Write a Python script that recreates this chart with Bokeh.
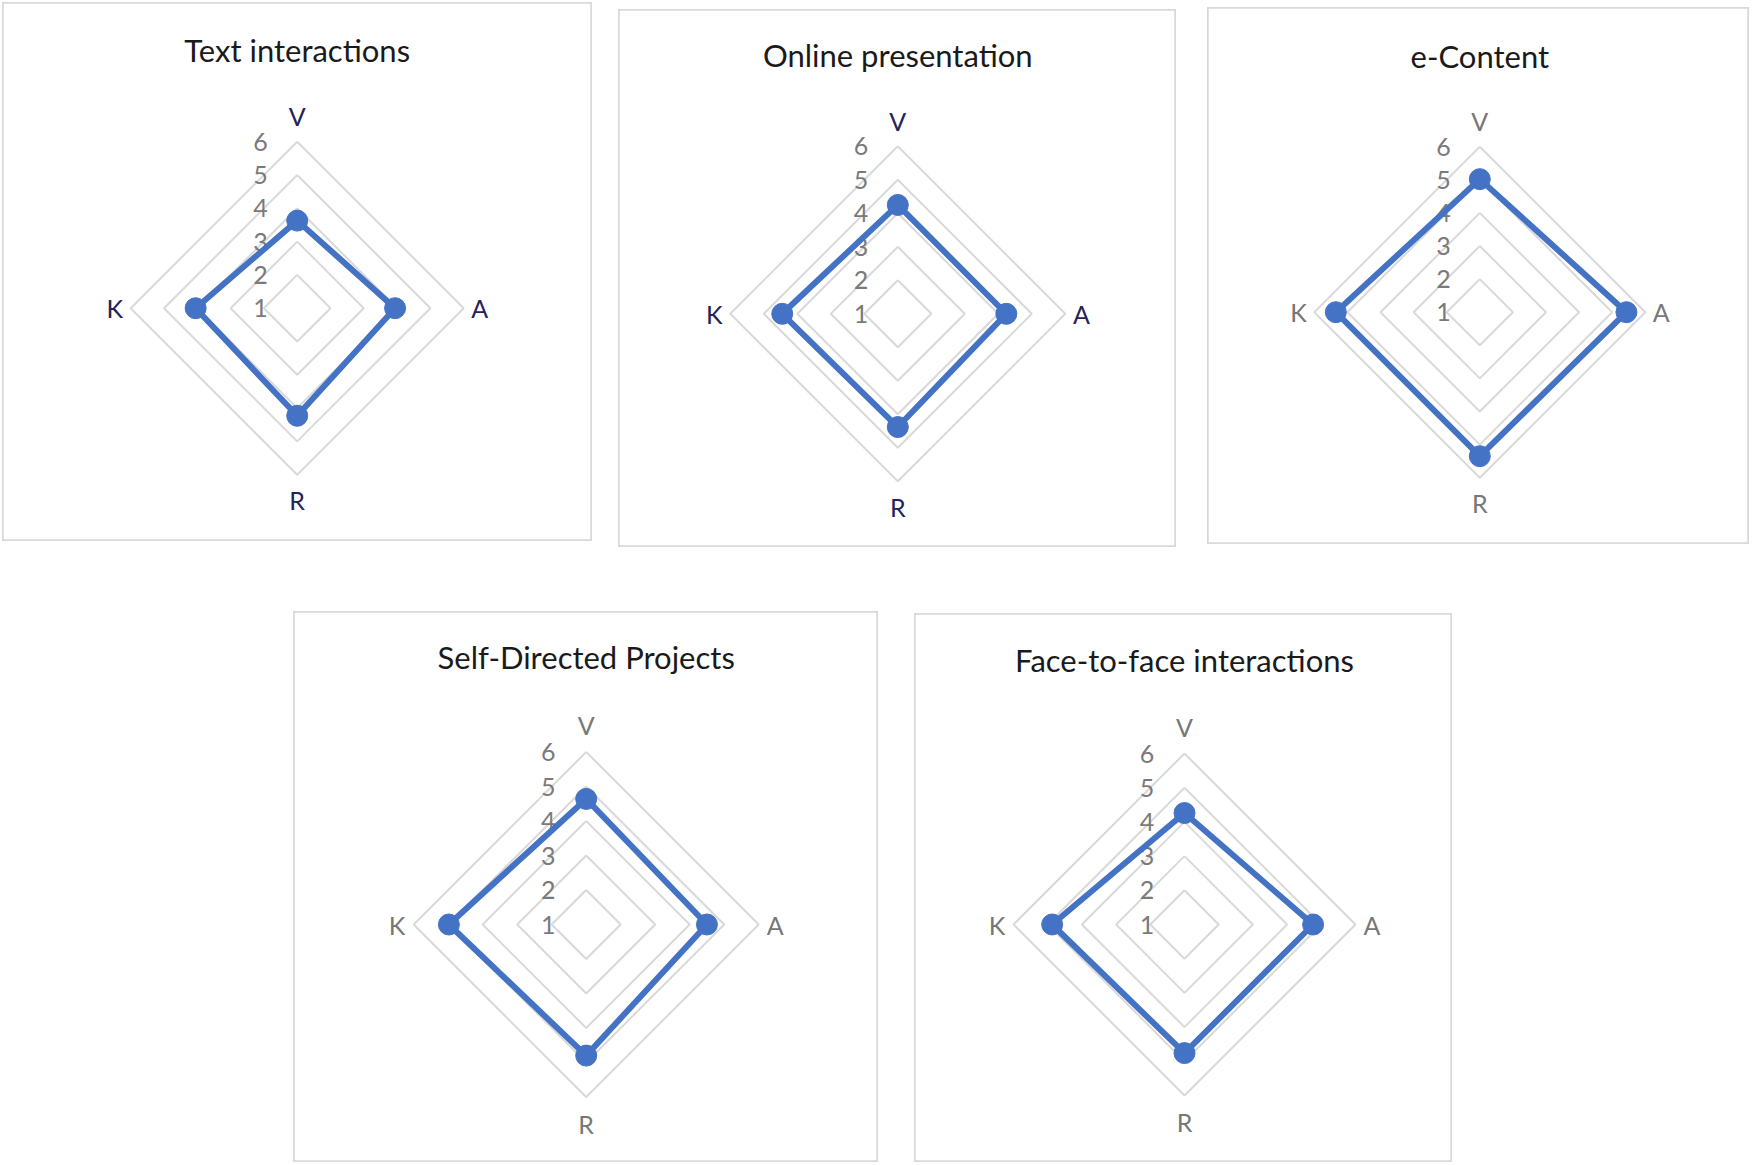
import math
from bokeh.plotting import figure
from bokeh.layouts import row, column
from bokeh.models import Range1d, Spacer
from bokeh.core.properties import value
from bokeh.embed import file_html
from bokeh.resources import INLINE

# ---------------- data ----------------
categories = ["V", "A", "R", "K"]
tick_labels = ["1", "2", "3", "4", "5", "6"]
axis_min, axis_max = 1, 6

titles = ["Text interactions", "Online presentation", "e-Content",
          "Self-Directed Projects", "Face-to-face interactions"]
text_interactions = [3.63, 3.94, 4.23, 4.05]
online_presentation = [4.25, 4.24, 4.38, 4.45]
e_content = [5.02, 5.43, 5.35, 5.35]
self_directed_projects = [4.64, 4.50, 4.80, 4.98]
face_to_face_interactions = [4.26, 4.76, 4.76, 4.87]
series = [text_interactions, online_presentation, e_content,
          self_directed_projects, face_to_face_interactions]

# ---------------- layout / style ----------------
# width, height, centre x, centre y (px from figure's top-left), px per unit, axis label colour
specs = [
    dict(w=590, h=539, cx=294.7, cy=305.7, u=33.3, lab="#23235a"),
    dict(w=558, h=538, cx=279.3, cy=304.3, u=33.5, lab="#23235a"),
    dict(w=542, h=537, cx=272.3, cy=304.7, u=33.1, lab="#777777"),
    dict(w=585, h=551, cx=292.7, cy=313.0, u=34.5, lab="#777777"),
    dict(w=538, h=549, cx=270.0, cy=311.0, u=34.2, lab="#777777"),
]
FONT = value("Lato")
BLUE = "#4472C4"
GRID = "#d9d9d9"

n = len(categories)
angles = [math.pi / 2 - 2 * math.pi * i / n for i in range(n)]


def radar(title, vals, s):
    W, H, cx, cy, u = s["w"], s["h"], s["cx"], s["cy"], s["u"]
    p = figure(width=W, height=H,
               x_range=Range1d(-cx / u, (W - cx) / u),
               y_range=Range1d(-(H - cy) / u, cy / u),
               output_backend="svg", toolbar_location=None,
               x_axis_location=None, y_axis_location=None,
               min_border=0, outline_line_color=GRID, outline_line_width=2.5,
               background_fill_color="white", border_fill_color="white")
    p.grid.visible = False

    # rings
    xs, ys = [], []
    for t in range(axis_min + 1, axis_max + 1):
        r = t - axis_min
        xs.append([r * math.cos(a) for a in angles] + [r * math.cos(angles[0])])
        ys.append([r * math.sin(a) for a in angles] + [r * math.sin(angles[0])])
    p.multi_line(xs, ys, line_color=GRID, line_width=2)

    # tick labels
    ticks = list(range(axis_min, axis_max + 1))
    p.text(x=[-1.1] * len(ticks), y=[t - axis_min for t in ticks], text=tick_labels,
           text_align="center", text_baseline="middle", text_font=FONT,
           text_font_size="25px", text_color="#7a7a7a")

    # data
    rr = [v - axis_min for v in vals]
    dx = [r * math.cos(a) for r, a in zip(rr, angles)]
    dy = [r * math.sin(a) for r, a in zip(rr, angles)]
    p.line(dx + [dx[0]], dy + [dy[0]], line_color=BLUE, line_width=6, line_join="round")
    p.scatter(dx, dy, size=21, fill_color=BLUE, line_color=BLUE)

    # category labels
    R = axis_max - axis_min
    lx = [(R + 0.48) * math.cos(a) for a in angles]
    ly = [(R + 0.77) * math.sin(a) for a in angles]
    p.text(x=lx, y=ly, text=categories, text_align="center", text_baseline="middle",
           text_font=FONT, text_font_size="25px", text_color=s["lab"])

    # title
    p.text(x=[0], y=[7.74], text=[title], text_align="center", text_baseline="middle",
           text_font=FONT, text_font_size="31px", text_color="#1a1a1a")
    return p


figs = [radar(t, v, s) for t, v, s in zip(titles, series, specs)]

r1 = row(Spacer(width=2), column(Spacer(height=2), figs[0]),
         Spacer(width=26), column(Spacer(height=9), figs[1]),
         Spacer(width=31), column(Spacer(height=7), figs[2]))
r2 = row(Spacer(width=293), figs[3],
         Spacer(width=36), column(Spacer(height=2), figs[4]))
layout = column(r1, Spacer(height=64), r2)

open("out.html", "w").write(file_html(layout, INLINE))
